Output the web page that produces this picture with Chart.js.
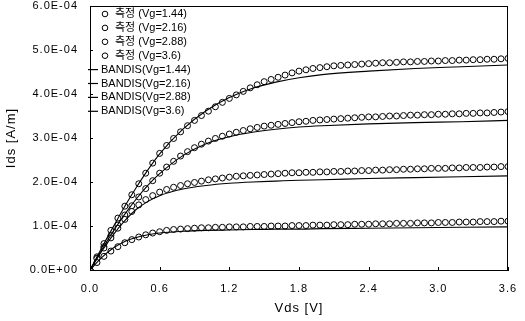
<!DOCTYPE html>
<html><head><meta charset="utf-8">
<script src="https://cdn.jsdelivr.net/npm/chart.js@4.4.0/dist/chart.umd.min.js"></script>
<style>html,body{margin:0;padding:0;background:#fff;}#wrap{width:525px;height:321px;}</style>
</head><body><div id="wrap"><canvas id="c" width="525" height="321"></canvas></div>
<script>
// Drain voltage for measured points [V]
const vdsMeas = [0,0.06,0.12,0.18,0.24,0.30,0.36,0.42,0.48,0.54,0.60,0.66,0.72,0.78,0.84,0.90,0.96,1.02,1.08,1.14,1.20,1.26,1.32,1.38,1.44,1.50,1.56,1.62,1.68,1.74,1.80,1.86,1.92,1.98,2.04,2.10,2.16,2.22,2.28,2.34,2.40,2.46,2.52,2.58,2.64,2.70,2.76,2.82,2.88,2.94,3.00,3.06,3.12,3.18,3.24,3.30,3.36,3.42,3.48,3.54,3.60];
// Measured Ids [x1e-4 A/m]
const meas144 = [0, 0.17,0.31,0.43,0.53,0.62, 0.69,0.75,0.80,0.84,0.87, 0.90,0.92,0.93,0.94,0.95, 0.96,0.96,0.97,0.97,0.98, 0.98,0.98,0.99,0.99,0.99, 1.00,1.00,1.00,1.01,1.01, 1.01,1.02,1.02,1.02,1.03, 1.03,1.03,1.04,1.04,1.04, 1.05,1.05,1.05,1.06,1.06, 1.06,1.07,1.07,1.07,1.08, 1.08,1.08,1.09,1.09,1.09, 1.10,1.10,1.10,1.11,1.11];
const meas216 = [0, 0.26,0.50,0.73,0.95,1.15, 1.33,1.48,1.60,1.69,1.77, 1.83,1.88,1.92,1.96,1.99, 2.02,2.05,2.07,2.09,2.11, 2.13,2.14,2.15,2.16,2.17, 2.18,2.19,2.20,2.21,2.21, 2.22,2.22,2.23,2.23,2.24, 2.24,2.25,2.25,2.26,2.26, 2.27,2.27,2.28,2.28,2.29, 2.29,2.30,2.30,2.31,2.31, 2.31,2.32,2.32,2.33,2.33, 2.33,2.34,2.34,2.35,2.35];
const meas288 = [0, 0.27,0.53,0.78,1.02,1.25, 1.46,1.66,1.85,2.03,2.20, 2.34,2.47,2.59,2.69,2.78, 2.86,2.93,2.99,3.04,3.09, 3.13,3.17,3.21,3.24,3.27, 3.29,3.31,3.33,3.35,3.37, 3.38,3.40,3.41,3.42,3.43, 3.44,3.45,3.46,3.47,3.48, 3.48,3.49,3.50,3.50,3.51, 3.52,3.52,3.53,3.53,3.54, 3.54,3.55,3.55,3.56,3.56, 3.57,3.57,3.58,3.59,3.60];
const meas360 = [0, 0.30,0.60,0.90,1.18,1.45, 1.71,1.96,2.20,2.43,2.65, 2.83,2.99,3.14,3.28,3.40, 3.51,3.61,3.71,3.81,3.90, 3.98,4.06,4.14,4.21,4.28, 4.33,4.38,4.43,4.48,4.52, 4.55,4.58,4.60,4.62,4.64, 4.65,4.66,4.67,4.68,4.69, 4.70,4.71,4.71,4.72,4.73, 4.73,4.74,4.74,4.75,4.75, 4.76,4.76,4.77,4.77,4.78, 4.78,4.79,4.79,4.80,4.81];
// BANDIS model [x1e-4 A/m]
const vdsModel = [0,0.1,0.2,0.3,0.4,0.5,0.6,0.8,1.0,1.2,1.4,1.6,1.8,2.0,2.4,2.8,3.2,3.6];
const band144 = [0,0.28,0.50,0.65,0.74,0.80,0.84,0.88,0.90,0.91,0.92,0.93,0.93,0.94,0.95,0.96,0.97,0.98];
const band216 = [0,0.42,0.80,1.12,1.38,1.56,1.69,1.84,1.92,1.97,2.00,2.02,2.04,2.05,2.08,2.10,2.12,2.14];
const band288 = [0,0.45,0.88,1.27,1.62,1.93,2.19,2.60,2.87,3.03,3.13,3.20,3.25,3.28,3.32,3.35,3.37,3.40];
const band360 = [0,0.50,0.98,1.45,1.88,2.28,2.64,3.20,3.62,3.92,4.13,4.27,4.37,4.44,4.52,4.58,4.62,4.66];

const measLabels = ['측정 (Vg=1.44)','측정 (Vg=2.16)','측정 (Vg=2.88)','측정 (Vg=3.6)'];
const modelLabels = ['BANDIS(Vg=1.44)','BANDIS(Vg=2.16)','BANDIS(Vg=2.88)','BANDIS(Vg=3.6)'];
const xTicks = [0,0.6,1.2,1.8,2.4,3.0,3.6];
const yTicks = [0,1e-4,2e-4,3e-4,4e-4,5e-4,6e-4];

const SCALE = 1e-4;
const toPts = (xs, ys) => xs.map((x,i)=>({x:x, y:ys[i]*SCALE}));
const measSeries = [meas144, meas216, meas288, meas360];
const modelSeries = [band144, band216, band288, band360];

const datasets = [];
measSeries.forEach((s,i)=>datasets.push({
  label: measLabels[i], data: toPts(vdsMeas, s), showLine:false,
  pointRadius:3, pointBorderWidth:1, pointBorderColor:'#000', pointBackgroundColor:'#fff', order:2
}));
modelSeries.forEach((s,i)=>datasets.push({
  label: modelLabels[i], data: toPts(vdsModel, s), showLine:true, cubicInterpolationMode:'monotone',
  borderColor:'#000', borderWidth:1.1, pointRadius:0, order:1
}));

function sci(v){
  if (Math.abs(v) < 1e-12) return '0.0E+00';
  const e = Math.floor(Math.log10(Math.abs(v)) + 1e-9);
  const m = v / Math.pow(10, e);
  return m.toFixed(1) + 'E' + (e < 0 ? '-' : '+') + String(Math.abs(e)).padStart(2,'0');
}

const FONT = "'Liberation Sans', Arial, 'Noto Sans CJK KR', sans-serif";

const spacingPlugin = {
  id:'spacing',
  beforeDraw(chart){ chart.ctx.letterSpacing = '1px'; },
  beforeDatasetsDraw(chart){ chart.ctx.letterSpacing = '0px'; }
};

const framePlugin = {
  id:'frame',
  afterDraw(chart){
    const {ctx, chartArea:a, scales} = chart;
    ctx.save();
    ctx.letterSpacing = '0px';
    ctx.strokeStyle = '#000'; ctx.lineWidth = 1;
    ctx.strokeRect(a.left+0.5, a.top+0.5, a.right-a.left-1, a.bottom-a.top);
    // inward ticks
    ctx.beginPath();
    scales.x.ticks.forEach(t=>{ const px = Math.round(scales.x.getPixelForValue(t.value))+0.5; ctx.moveTo(px, a.bottom); ctx.lineTo(px, a.bottom-3); });
    scales.y.ticks.forEach(t=>{ const py = Math.round(scales.y.getPixelForValue(t.value))+0.5; ctx.moveTo(a.left, py); ctx.lineTo(a.left+3, py); });
    ctx.stroke();
    // legend
    ctx.font = "11px " + FONT;
    ctx.textBaseline = 'middle'; ctx.textAlign = 'left';
    ctx.fillStyle = '#000';
    chart.data.datasets.forEach((ds,i)=>{
      const y = 14 + i*13.9;
      if (ds.showLine) {
        ctx.beginPath(); ctx.lineWidth = 1.2;
        ctx.moveTo(88, y); ctx.lineTo(98, y); ctx.stroke();
        ctx.fillText(ds.label, 101, y);
      } else {
        ctx.beginPath(); ctx.lineWidth = 1;
        ctx.arc(105, y, 2.8, 0, Math.PI*2);
        ctx.fillStyle = '#fff'; ctx.fill(); ctx.stroke();
        ctx.fillStyle = '#000';
        ctx.fillText(ds.label, 115, y);
      }
    });
    ctx.restore();
  }
};

new Chart(document.getElementById('c'), {
  type:'scatter',
  data:{ datasets },
  options:{
    responsive:false, animation:false, devicePixelRatio:1,
    layout:{ padding:{ top:6, right:17, left:0, bottom:0 } },
    plugins:{ legend:{display:false}, tooltip:{enabled:false} },
    scales:{
      x:{
        type:'linear', min:0, max:3.6,
        afterBuildTicks(s){ s.ticks = xTicks.map(v=>({value:v})); },
        afterFit(s){ s.height = 51; s.paddingLeft = 0; s.paddingRight = 0; },
        grid:{ drawOnChartArea:false, drawTicks:false },
        border:{ color:'#000', width:1 },
        ticks:{ padding:12, color:'#000', font:{ family:FONT, size:11 }, callback:v=>Number(v).toFixed(1) },
        title:{ display:true, text:'Vds [V]', color:'#000', font:{ family:FONT, size:13 }, padding:{top:0,bottom:5} }
      },
      y:{
        type:'linear', min:0, max:6e-4,
        afterBuildTicks(s){ s.ticks = yTicks.map(v=>({value:v})); },
        afterFit(s){ s.width = 90; s.paddingTop = 0; s.paddingBottom = 0; },
        grid:{ drawOnChartArea:false, drawTicks:false },
        border:{ color:'#000', width:1 },
        ticks:{ padding:12, color:'#000', font:{ family:FONT, size:11 }, callback:v=>sci(v) },
        title:{ display:true, text:'Ids [A/m]', color:'#000', font:{ family:FONT, size:13 }, padding:{top:4,bottom:0} }
      }
    }
  },
  plugins:[spacingPlugin, framePlugin]
});
</script>
</body></html>
